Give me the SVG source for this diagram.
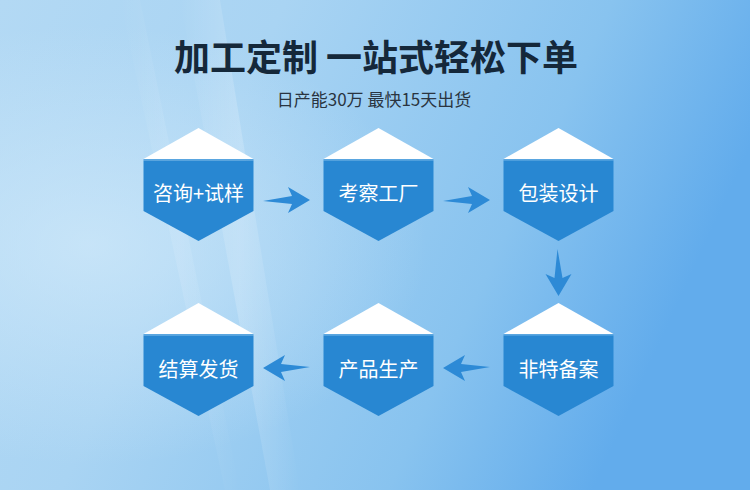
<svg xmlns="http://www.w3.org/2000/svg" width="750" height="490" viewBox="0 0 750 490">
<defs>
<linearGradient id="bg" x1="0" y1="0" x2="1" y2="0.3">
<stop offset="0" stop-color="#b3d9f4"/>
<stop offset="0.35" stop-color="#a9d4f3"/>
<stop offset="0.75" stop-color="#88c3ef"/>
<stop offset="1" stop-color="#62acec"/>
</linearGradient>
<radialGradient id="glow" cx="0.12" cy="0.5" r="0.45">
<stop offset="0" stop-color="#d2eafa" stop-opacity="0.7"/>
<stop offset="1" stop-color="#d2eafa" stop-opacity="0"/>
</radialGradient>
<linearGradient id="streak" x1="0" y1="0" x2="1" y2="0">
<stop offset="0" stop-color="#ffffff" stop-opacity="0"/>
<stop offset="0.5" stop-color="#ffffff" stop-opacity="0.18"/>
<stop offset="1" stop-color="#ffffff" stop-opacity="0"/>
</linearGradient>
<g id="hex">
<polygon points="0,-72 -55,-41 55,-41" fill="#ffffff"/>
<rect x="-55" y="-41" width="110" height="1.5" fill="#5aa6e0"/>
<polygon points="-55,-39.5 55,-39.5 55,11 0,41 -55,11" fill="#2887d2"/>
</g>
<polygon id="arr" points="0,0 -22,-13 -18,-4 -47,1 -18,4 -22,13" fill="#2d8ad6"/>
</defs>
<style>
.title{font-family:"Noto Sans CJK SC","Noto Sans",sans-serif;font-size:36px;font-weight:700;fill:#15283a;text-anchor:middle}
.sub{font-family:"Noto Sans CJK SC","Noto Sans",sans-serif;font-size:17px;fill:#2a3440;text-anchor:middle}
.lbl{font-family:"Noto Sans CJK SC","Noto Sans",sans-serif;font-size:20px;fill:#ffffff;text-anchor:middle;dominant-baseline:central}
</style>
<rect width="750" height="490" fill="url(#bg)"/>
<rect width="750" height="490" fill="url(#glow)"/>
<path d="M180,0 L220,0 L300,490 L270,490 Z" fill="url(#streak)"/>
<path d="M120,0 L140,0 L240,490 L225,490 Z" fill="url(#streak)" opacity="0.6"/>
<text class="title" x="376" y="71">加工定制 一站式轻松下单</text>
<text class="sub" x="374" y="106">日产能30万 最快15天出货</text>
<g id="n1" transform="translate(198.5,200)"><use href="#hex"/><text class="lbl" x="0" y="-8">咨询+试样</text></g>
<g id="n2" transform="translate(378.5,200)"><use href="#hex"/><text class="lbl" x="0" y="-8">考察工厂</text></g>
<g id="n3" transform="translate(558.5,200)"><use href="#hex"/><text class="lbl" x="0" y="-8">包装设计</text></g>
<g id="n4" transform="translate(558.5,375)"><use href="#hex"/><text class="lbl" x="0" y="-7">非特备案</text></g>
<g id="n5" transform="translate(378.5,375)"><use href="#hex"/><text class="lbl" x="0" y="-7">产品生产</text></g>
<g id="n6" transform="translate(198.5,375)"><use href="#hex"/><text class="lbl" x="0" y="-7">结算发货</text></g>
<g id="connectors">
<use href="#arr" transform="translate(310,200)"/>
<use href="#arr" transform="translate(490,200)"/>
<use href="#arr" transform="translate(558.5,296) rotate(90)"/>
<use href="#arr" transform="translate(443,368) rotate(180)"/>
<use href="#arr" transform="translate(263,368) rotate(180)"/>
</g>
</svg>
